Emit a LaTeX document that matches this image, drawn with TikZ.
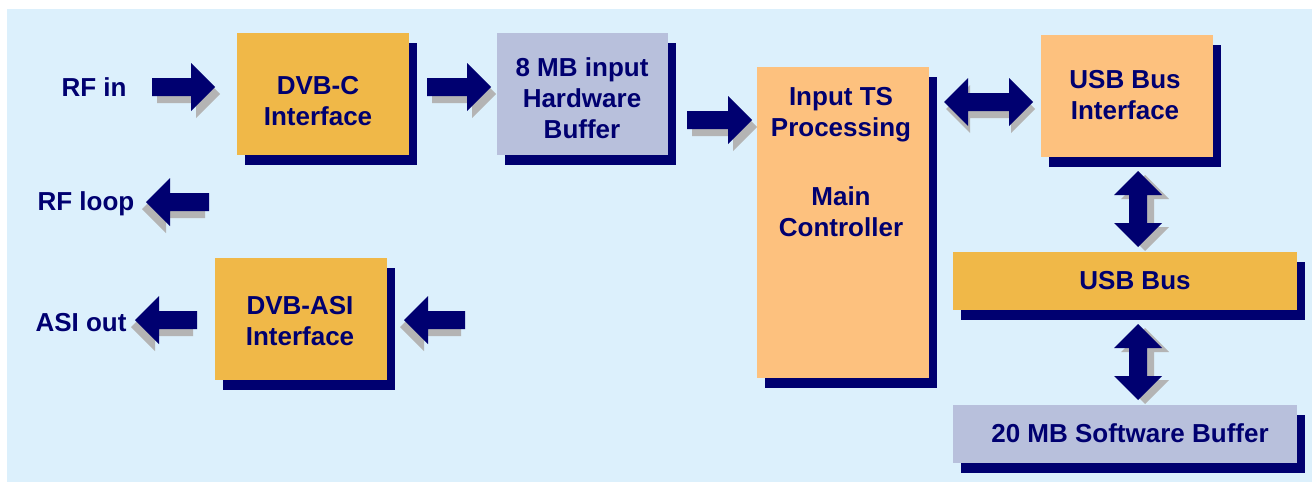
\documentclass[tikz,border=0pt]{standalone}
\usepackage{fontspec}
\setmainfont{Liberation Sans}
\usetikzlibrary{calc,shadows}
\definecolor{bgblue}{RGB}{220,240,252}
\definecolor{orangeA}{RGB}{240,184,72}
\definecolor{orangeB}{RGB}{253,193,126}
\definecolor{lav}{RGB}{184,192,220}
\definecolor{navyc}{RGB}{0,0,112}
\definecolor{ashadow}{RGB}{180,180,180}
\tikzset{
  box/.style={rectangle, inner sep=0pt, draw=none,
    general shadow={fill=navyc, shadow xshift=8pt, shadow yshift=-10pt}},
  lbl/.style={text=navyc, font=\fontsize{26}{31}\selectfont\bfseries,
    align=center, inner sep=0pt, text depth=0pt},
}
\newcommand\fatpath[2]{($(#1)!9pt!90:(#2)$) -- ($(hb)!9pt!90:(#2)$) -- ($(hb)!24pt!90:(#2)$) -- (#2) -- ($(hb)!24pt!-90:(#2)$) -- ($(hb)!9pt!-90:(#2)$) -- ($(#1)!9pt!-90:(#2)$) -- cycle}
\newcommand\fatarrow[3]{%
  \coordinate (hb) at ($(#2)!24pt!(#1)$);
  \fill[ashadow, transform canvas={shift={#3}}] \fatpath{#1}{#2};
  \fill[navyc] \fatpath{#1}{#2};
}
\newcommand\dblpath[2]{(#1) -- ($(ha)!24pt!90:(#2)$) -- ($(ha)!9pt!90:(#2)$) -- ($(hb)!9pt!-90:(#1)$) -- ($(hb)!24pt!-90:(#1)$) -- (#2) -- ($(hb)!24pt!90:(#1)$) -- ($(hb)!9pt!90:(#1)$) -- ($(ha)!9pt!-90:(#2)$) -- ($(ha)!24pt!-90:(#2)$) -- cycle}
\newcommand\dblarrow[3]{%
  \coordinate (ha) at ($(#1)!24pt!(#2)$);
  \coordinate (hb) at ($(#2)!24pt!(#1)$);
  \fill[ashadow, transform canvas={shift={#3}}] \dblpath{#1}{#2};
  \fill[navyc] \dblpath{#1}{#2};
}
\begin{document}
\begin{tikzpicture}[x=1pt,y=-1pt]
\useasboundingbox (0,0) rectangle (1312,482);
\fill[white] (0,0) rectangle (1312,482);
\fill[bgblue] (7,9) rectangle (1312,482);

% boxes
\node[box, fill=orangeA, minimum width=172pt, minimum height=122pt] (dvbc) at (323,94) {};
\node[box, fill=lav, minimum width=171pt, minimum height=122pt] (hwbuf) at (582.5,94) {};
\node[box, fill=orangeA, minimum width=172pt, minimum height=122pt] (dvbasi) at (301,319) {};
\node[box, fill=orangeB, minimum width=172pt, minimum height=311pt] (ts) at (843,222.5) {};
\node[box, fill=orangeB, minimum width=172pt, minimum height=122pt] (usbif) at (1127,96) {};
\node[box, fill=orangeA, minimum width=344pt, minimum height=58pt] (usbbus) at (1125,281) {};
\node[box, fill=lav, minimum width=344pt, minimum height=58pt] (swbuf) at (1125,434) {};

% texts
\node[lbl] (trfin) at (94,87) {RF in};
\node[lbl] (trfloop) at (86,201) {RF loop};
\node[lbl] (tasi) at (81,322) {ASI out};
\node[lbl] (tdvbc) at (318,101) {DVB-C\\Interface};
\node[lbl] (thw) at (582,98) {8 MB input\\Hardware\\Buffer};
\node[lbl] (tdvbasi) at (300,321) {DVB-ASI\\Interface};
\node[lbl] (tts) at (841,162) {Input TS\\Processing\\[38pt]Main\\Controller};
\node[lbl] (tusbif) at (1125,95) {USB Bus\\Interface};
\node[lbl] (tusbbus) at (1135,280) {USB Bus};
\node[lbl] (tsw) at (1130,433) {20 MB Software Buffer};

% arrow end points
\coordinate (a1s) at (152,87);  \coordinate (a1t) at (215,87);
\coordinate (a2s) at (427,87);  \coordinate (a2t) at (491,87);
\coordinate (a3s) at (687,120); \coordinate (a3t) at (752,120);
\coordinate (a4s) at (209,202); \coordinate (a4t) at (146,202);
\coordinate (a5s) at (197,320); \coordinate (a5t) at (135,320);
\coordinate (a6s) at (465,320); \coordinate (a6t) at (404,320);
\coordinate (d1a) at (944,102); \coordinate (d1b) at (1033,102);
\coordinate (d2a) at (1138,171); \coordinate (d2b) at (1138,247);
\coordinate (d3a) at (1138,324); \coordinate (d3b) at (1138,400);

\fatarrow{a1s}{a1t}{(5,7)}
\fatarrow{a2s}{a2t}{(5,7)}
\fatarrow{a3s}{a3t}{(5,7)}
\fatarrow{a4s}{a4t}{(-4,7)}
\fatarrow{a5s}{a5t}{(-4,7)}
\fatarrow{a6s}{a6t}{(-4,7)}
\dblarrow{d1a}{d1b}{(2,7)}
\dblarrow{d2a}{d2b}{(7,4)}
\dblarrow{d3a}{d3b}{(7,4)}
\end{tikzpicture}
\end{document}
